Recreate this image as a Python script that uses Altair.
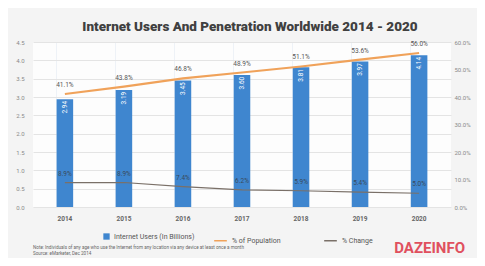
import altair as alt
import pandas as pd

years = ["2014", "2015", "2016", "2017", "2018", "2019", "2020"]
users = [2.94, 3.19, 3.45, 3.60, 3.81, 3.97, 4.14]
penetration = [41.1, 43.8, 46.8, 48.9, 51.1, 53.6, 56.0]
change = [8.9, 8.9, 7.4, 6.2, 5.9, 5.4, 5.0]
left_ticks = [0, 0.5, 1, 1.5, 2, 2.5, 3, 3.5, 4, 4.5]
right_ticks = [0, 0.1, 0.2, 0.3, 0.4, 0.5, 0.6]

title = "Internet Users And Penetration Worldwide 2014 - 2020"
note = "Note: Individuals of any age who use the Internet from any location via any device at least once a month"
source = "Source: eMarketer, Dec 2014"
logo = "DAZEINFO"

df = pd.DataFrame({
    "year": years,
    "users": users,
    "pen": [p / 100 for p in penetration],
    "chg": [c / 100 for c in change],
    "users_label": [f"{u:.2f}" for u in users],
    "pen_label": [f"{p:.1f}%" for p in penetration],
    "chg_label": [f"{c:.1f}%" for c in change],
    "bar_name": ["Internet Users (In Billions)"] * len(years),
    "s_pen": ["% of Population"] * len(years),
    "s_chg": ["% Change"] * len(years),
})

BLUE = "#3f86cf"
ORANGE = "#f0a25a"
GRAY = "#7a7068"
LABEL = "#8a8a8a"

x = alt.X("year:N", title=None,
          scale=alt.Scale(paddingInner=0.72, paddingOuter=0.4),
          axis=alt.Axis(labelAngle=0, labelFontSize=6.5, labelColor="#666666",
                        labelFontWeight="bold", domain=False, ticks=False,
                        grid=True, gridColor="#eef2f7", bandPosition=0,
                        labelPadding=8))

yleft_scale = alt.Scale(domain=[0, 4.5])
yleft_axis = alt.Axis(title=None, values=left_ticks, labelFontSize=6, labelColor=LABEL,
                      domain=False, ticks=False, gridColor="#e4e4e4", labelPadding=9)

bars = alt.Chart(df).mark_bar().encode(
    x=x,
    y=alt.Y("users:Q", scale=yleft_scale, axis=yleft_axis),
    fill=alt.Fill("bar_name:N", scale=alt.Scale(range=[BLUE]),
                  legend=alt.Legend(title=None, orient="none", legendX=70, legendY=191,
                                    direction="horizontal", symbolType="square",
                                    symbolSize=40, labelFontSize=7, labelColor="#555555",
                                    symbolStrokeWidth=0)),
)
bar_text = alt.Chart(df).transform_calculate(ypos="datum.users - 0.22").mark_text(
    angle=270, color="white", fontSize=6.5, font="Roboto"
).encode(x=x, y=alt.Y("ypos:Q", scale=yleft_scale, axis=yleft_axis), text="users_label:N")

yright_scale = alt.Scale(domain=[0, 0.6])
yright_axis = alt.Axis(title=None, orient="right", values=right_ticks, format=".1%",
                       labelFontSize=6, labelColor=LABEL, domain=False, ticks=False,
                       grid=False, labelPadding=3)

stroke_scale = alt.Scale(domain=["% of Population", "% Change"], range=[ORANGE, GRAY])
stroke_legend = alt.Legend(title=None, orient="none", legendX=180, legendY=191,
                           direction="horizontal", symbolType="stroke", symbolSize=160,
                           symbolStrokeWidth=1.5, labelFontSize=7, labelColor="#555555",
                           columnPadding=40)

pen_line = alt.Chart(df).mark_line(strokeWidth=2.2).encode(
    x=x, y=alt.Y("pen:Q", scale=yright_scale, axis=yright_axis),
    stroke=alt.Stroke("s_pen:N", scale=stroke_scale, legend=stroke_legend))
pen_text = alt.Chart(df).mark_text(dy=-9, fontSize=6.5, color="#555555", font="Roboto").encode(
    x=x, y=alt.Y("pen:Q", scale=yright_scale, axis=yright_axis), text="pen_label:N")
chg_line = alt.Chart(df).mark_line(strokeWidth=1.2).encode(
    x=x, y=alt.Y("chg:Q", scale=yright_scale, axis=yright_axis),
    stroke=alt.Stroke("s_chg:N", scale=stroke_scale, legend=stroke_legend))
chg_text = alt.Chart(df).mark_text(dy=-9, fontSize=6.5, color="#3a4a5a", font="Roboto").encode(
    x=x, y=alt.Y("chg:Q", scale=yright_scale, axis=yright_axis), text="chg_label:N")

left = alt.layer(bars, bar_text)
right = alt.layer(pen_line, chg_line, pen_text, chg_text)

ann = pd.DataFrame({"note": [note], "source": [source], "logo": [logo]})
note_t = alt.Chart(ann).mark_text(align="left", fontSize=4.6, color="#666666", font="Roboto").encode(
    x=alt.value(0), y=alt.value(206), text="note:N")
src_t = alt.Chart(ann).mark_text(align="left", fontSize=4.6, color="#666666", font="Roboto").encode(
    x=alt.value(0), y=alt.value(212), text="source:N")
logo_t = alt.Chart(ann).mark_text(align="right", fontSize=15, fontWeight="bold", color="#e0505e",
                                  font="Roboto").encode(
    x=alt.value(432), y=alt.value(206), text="logo:N")

chart = alt.layer(left, right, note_t, src_t, logo_t).resolve_scale(
    y="independent", fill="independent", stroke="independent"
).properties(
    width=418, height=165,
    title=alt.TitleParams(title, fontSize=13.5, font="Roboto", fontWeight=900,
                          color="#404040", anchor="middle", offset=6, dx=8),
    autosize=alt.AutoSizeParams(type="none"),
    padding={"left": 25, "top": 34, "right": 26, "bottom": 51},
    background="#f4f4f4",
).configure_view(fill="#fdfdfd", stroke=None).configure_axis(labelFont="Roboto").configure_legend(labelFont="Roboto")

chart.save("out.html", embed_options={"renderer": "svg", "actions": False})
